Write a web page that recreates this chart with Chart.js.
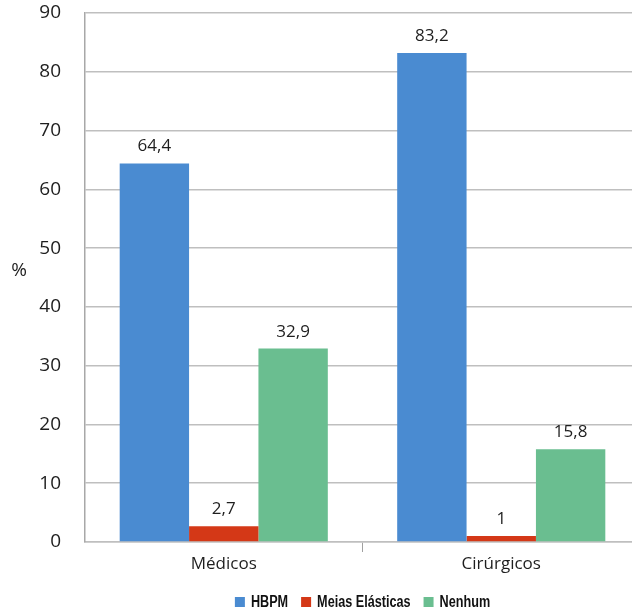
<!DOCTYPE html>
<html lang="pt">
<head>
<meta charset="utf-8">
<title>Profilaxia de TEV</title>
<script src="https://cdn.jsdelivr.net/npm/chart.js@4/dist/chart.umd.min.js"></script>
<style>
  html, body { margin: 0; padding: 0; background: #fff; overflow: hidden; }
  #wrap { position: relative; width: 640px; height: 610px; }
</style>
</head>
<body>
<div id="wrap"><canvas id="chart"></canvas></div>
<script>
// Categories, series and axis ticks
const categories = ['Médicos', 'Cirúrgicos'];
const seriesNames = ['HBPM', 'Meias Elásticas', 'Nenhum'];
const hbpm = [64.4, 83.2];
const meiasElasticas = [2.7, 1];
const nenhum = [32.9, 15.8];
const yTicks = [0, 10, 20, 30, 40, 50, 60, 70, 80, 90];
const yTitle = '%';

const colors = ['#4a8bd1', '#d43817', '#6abe90'];
const gridGray = '#bfbfbf';
const textDark = '#1e1e1e';
const legendFont = 'bold 16px "Liberation Sans", Arial, sans-serif';
const legendSqueeze = 0.79;   // condensed look for the legend text

// Value labels above each bar, with a decimal comma
const valueLabels = {
  id: 'valueLabels',
  afterDatasetsDraw(chart) {
    const ctx = chart.ctx;
    ctx.save();
    ctx.font = '17px "Open Sans", "Noto Sans", sans-serif';
    ctx.fillStyle = textDark;
    ctx.textAlign = 'center';
    ctx.textBaseline = 'alphabetic';
    chart.data.datasets.forEach((ds, i) => {
      chart.getDatasetMeta(i).data.forEach((bar, j) => {
        const txt = String(ds.data[j]).replace('.', ',');
        ctx.fillText(txt, bar.x, bar.y - 12);
      });
    });
    ctx.restore();
  }
};

// Horizontal "%" title left of the value axis
const axisTitle = {
  id: 'axisTitle',
  afterDraw(chart) {
    const ctx = chart.ctx;
    const a = chart.chartArea;
    ctx.save();
    ctx.font = '19px "Open Sans", "Noto Sans", sans-serif';
    ctx.fillStyle = textDark;
    ctx.textAlign = 'center';
    ctx.textBaseline = 'middle';
    ctx.fillText(yTitle, 19, a.top + (a.bottom - a.top) * 0.487);
    ctx.restore();
  }
};

// Legend row under the category labels, condensed bold text
const bottomLegend = {
  id: 'bottomLegend',
  afterDraw(chart) {
    const ctx = chart.ctx;
    const a = chart.chartArea;
    ctx.save();
    ctx.font = legendFont;
    const box = 10, gapText = 6, gapItem = 13;
    const items = chart.data.datasets.map(ds => ({
      label: ds.label,
      color: ds.backgroundColor,
      w: ctx.measureText(ds.label).width * legendSqueeze
    }));
    const total = items.reduce((s, it) => s + box + gapText + it.w, 0) + gapItem * (items.length - 1);
    let x = (a.left + a.right) / 2 - total / 2;
    const yMid = chart.height - 8;
    ctx.textBaseline = 'middle';
    ctx.textAlign = 'left';
    items.forEach(it => {
      ctx.fillStyle = it.color;
      ctx.fillRect(x, yMid - box / 2, box, box);
      x += box + gapText;
      ctx.save();
      ctx.translate(x, yMid + 1);
      ctx.scale(legendSqueeze, 1);
      ctx.fillStyle = '#111';
      ctx.fillText(it.label, 0, 0);
      ctx.restore();
      x += it.w + gapItem;
    });
    ctx.restore();
  }
};

new Chart(document.getElementById('chart'), {
  type: 'bar',
  data: {
    labels: categories,
    datasets: [
      { label: seriesNames[0], data: hbpm, backgroundColor: colors[0] },
      { label: seriesNames[1], data: meiasElasticas, backgroundColor: colors[1] },
      { label: seriesNames[2], data: nenhum, backgroundColor: colors[2] }
    ]
  },
  options: {
    responsive: true,
    maintainAspectRatio: false,
    animation: false,
    layout: { padding: { top: 13, right: 0, bottom: 24, left: 0 } },
    datasets: { bar: { categoryPercentage: 0.75, barPercentage: 1.0 } },
    plugins: {
      tooltip: { enabled: false },
      legend: { display: false }
    },
    scales: {
      x: {
        offset: true,
        grid: {
          display: true,
          offset: true,
          drawOnChartArea: false,
          drawTicks: true,
          tickLength: 10,
          lineWidth: 1,
          color: (c) => (c.index === 0 ? 'rgba(0,0,0,0)' : '#a0a0a0')
        },
        border: { display: true, color: gridGray, width: 1.5 },
        ticks: {
          color: textDark,
          padding: 2,
          font: { family: '"Open Sans", "Noto Sans", sans-serif', size: 17 }
        },
        afterFit(scale) {
          scale.height = 44;
          scale.paddingLeft = 0;
          scale.paddingRight = 0;
        }
      },
      y: {
        min: 0,
        max: 90,
        afterBuildTicks(scale) { scale.ticks = yTicks.map(v => ({ value: v })); },
        grid: { color: gridGray, lineWidth: 1.5, drawTicks: false },
        border: { display: true, color: '#a8a8a8', width: 1.5 },
        ticks: {
          color: textDark,
          padding: 24,
          font: { family: '"Open Sans", "Noto Sans", sans-serif', size: 19 }
        },
        afterFit(scale) {
          scale.width = 85;
          scale.paddingTop = 0;
          scale.paddingBottom = 0;
        }
      }
    }
  },
  plugins: [valueLabels, axisTitle, bottomLegend]
});
</script>
</body>
</html>
